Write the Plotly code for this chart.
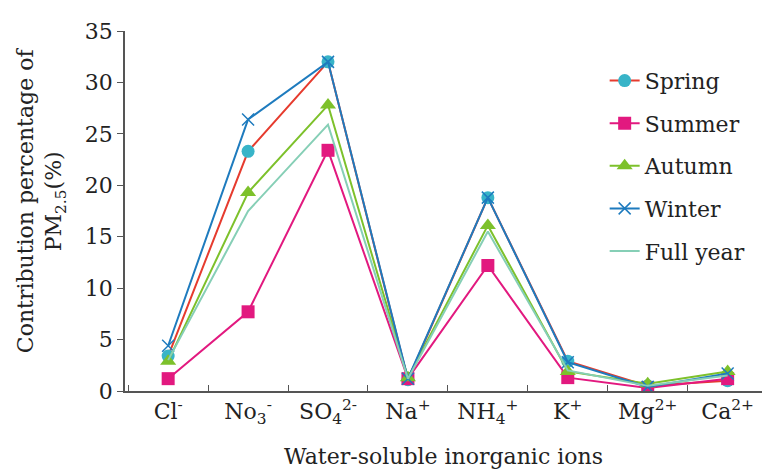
import plotly.graph_objects as go

categories = ["Cl<sup>-</sup>", "No<sub>3</sub><sup>-</sup>", "SO<sub>4</sub><sup>2-</sup>", "Na<sup>+</sup>",
              "NH<sub>4</sub><sup>+</sup>", "K<sup>+</sup>", "Mg<sup>2+</sup>", "Ca<sup>2+</sup>"]
spring = [3.4, 23.3, 32.0, 1.1, 18.8, 2.9, 0.5, 1.0]
summer = [1.2, 7.7, 23.4, 1.2, 12.2, 1.3, 0.3, 1.2]
autumn = [2.9, 19.3, 27.8, 1.3, 16.1, 1.9, 0.7, 1.9]
winter = [4.4, 26.4, 32.0, 1.2, 18.8, 2.8, 0.4, 1.7]
full_year = [3.0, 17.5, 25.9, 1.2, 15.5, 2.0, 0.5, 1.5]
y_title = "Contribution percentage of<br>PM<sub>2.5</sub>(%)"
x_title = "Water-soluble inorganic ions"

FONT = "DejaVu Serif"
FS = 22
TXT = "#222"
fig = go.Figure()

def add(name, y, line_color, marker=None):
    kw = dict(x=categories, y=y, name=name, legendgroup=name,
              line=dict(color=line_color, width=2))
    if marker:
        kw["mode"] = "lines+markers"
        kw["marker"] = marker
    else:
        kw["mode"] = "lines"
    fig.add_trace(go.Scatter(**kw))

add("Spring", spring, "#E63B2E", dict(symbol="circle", size=13, color="#38B4C8"))
add("Summer", summer, "#E2197F", dict(symbol="square", size=13, color="#E2197F"))
add("Autumn", autumn, "#7DC12B", dict(symbol="triangle-up", size=14, color="#7DC12B"))
add("Winter", winter, "#1E7BBE", dict(symbol="x-thin", size=12, color="#1E7BBE",
                                     line=dict(color="#1E7BBE", width=1.5)))
add("Full year", full_year, "#86CFB6")

fig.add_annotation(text=y_title, xref="paper", yref="paper", x=0, y=0.53,
                   xshift=-84, xanchor="center", yanchor="middle", textangle=-90,
                   showarrow=False, font=dict(size=FS, family=FONT, color=TXT))

fig.update_layout(
    width=762, height=469,
    margin=dict(l=125, r=0, t=31, b=78),
    paper_bgcolor="white", plot_bgcolor="white",
    font=dict(family=FONT, size=FS, color=TXT),
    showlegend=True,
    legend=dict(x=0.753, y=0.92, xanchor="left", yanchor="top",
                bgcolor="rgba(0,0,0,0)", font=dict(size=FS, family=FONT, color=TXT),
                tracegroupgap=11, itemwidth=30),
    xaxis=dict(type="category", range=[-0.54, 7.43], showgrid=False,
               showline=True, linecolor="#555", linewidth=1.5,
               tickson="boundaries", ticks="inside", ticklen=6, tickcolor="#555",
               tickfont=dict(size=FS, family=FONT, color=TXT),
               title=dict(text=x_title, standoff=22,
                          font=dict(size=FS, family=FONT, color=TXT))),
    yaxis=dict(range=[0, 35], tickvals=[0, 5, 10, 15, 20, 25, 30, 35], showgrid=False,
               zeroline=False, showline=True, linecolor="#555", linewidth=1.5,
               ticks="outside", ticklen=6, tickcolor="#555",
               tickfont=dict(size=FS, family=FONT, color=TXT)),
)

fig.write_html("out.html")
